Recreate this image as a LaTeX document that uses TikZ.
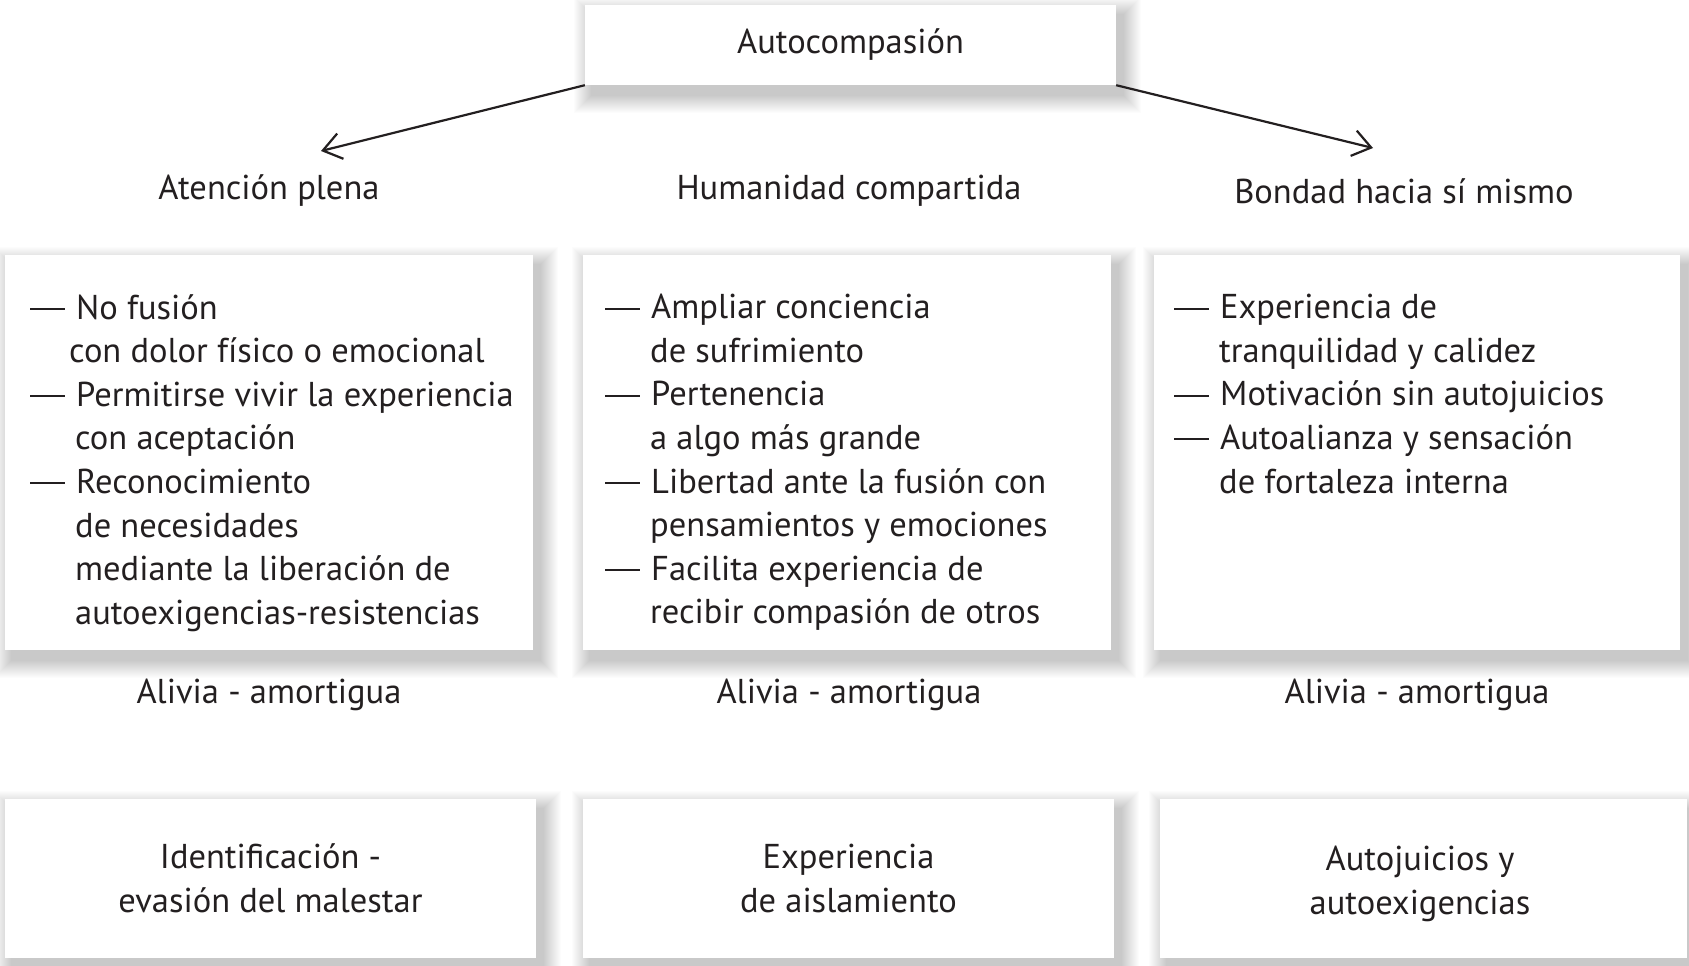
\documentclass[tikz,border=0pt]{standalone}
\usepackage{fontspec}
\setmainfont{PT Sans}
\usetikzlibrary{arrows.meta,calc}
\definecolor{ink}{HTML}{231F20}
\newcommand{\dsh}{\makebox[46pt][l]{\rule[9pt]{35pt}{2pt}}}
\newcommand{\ind}[1][45pt]{\hspace*{#1}}
\pgfdeclarelayer{back}
\pgfdeclarelayer{shadowlayer}
\pgfsetlayers{back,shadowlayer,main}
\newcommand{\softshadow}[1]{%
  \foreach \r in {1,...,18}{%
    \fill[black,opacity=0.013] ($(#1.south west)+(7-\r,10+\r)$) rectangle ($(#1.north east)+(7+\r,10-\r)$);}}
\tikzset{
  every node/.style={font=\fontsize{34.5}{43.6}\selectfont, text=ink},
  box/.style={fill=white, inner sep=0pt},
  body/.style={align=left, anchor=north west, inner sep=0pt},
  arr/.style={draw=ink, line width=2.2pt, -{Straight Barb[length=18pt,width=26pt,line width=2.2pt]}},
}
\begin{document}
\begin{tikzpicture}[x=1pt,y=-1pt]
\begin{pgfonlayer}{back}
\fill[white] (0,0) rectangle (1689,966);
\end{pgfonlayer}
\useasboundingbox (0,0) rectangle (1689,966);

% top
\node[box, minimum width=531pt, minimum height=80pt] (top) at (850.5,45) {Autocompasión};

% labels
\node (lA) at (269,191) {Atención plena};
\node (lH) at (849,191) {Humanidad compartida};
\node (lB) at (1404,191) {Bondad hacia sí mismo};
\coordinate (tipL) at (321,151);
\coordinate (tipR) at (1373,148);
\draw[arr] (top.south west) -- (tipL);
\draw[arr] (top.south east) -- (tipR);

% middle boxes
\node[box, minimum width=528pt, minimum height=395pt] (mL) at (269,452.5) {};
\node[box, minimum width=528pt, minimum height=395pt] (mM) at (847,452.5) {};
\node[box, minimum width=526pt, minimum height=395pt] (mR) at (1417,452.5) {};

\node[body] (tL) at (30,294) {\dsh No fusión\\
\ind[39pt]con dolor físico o emocional\\
\dsh Permitirse vivir la experiencia\\
\ind con aceptación\\
\dsh Reconocimiento\\
\ind de necesidades\\
\ind mediante la liberación de\\
\ind autoexigencias-resistencias};

\node[body] (tM) at (605,294) {\dsh Ampliar conciencia\\
\ind de sufrimiento\\
\dsh Pertenencia\\
\ind a algo más grande\\
\dsh Libertad ante la fusión con\\
\ind pensamientos y emociones\\
\dsh Facilita experiencia de\\
\ind recibir compasión de otros};

\node[body] (tR) at (1174,294) {\dsh Experiencia de\\
\ind tranquilidad y calidez\\
\dsh Motivación sin autojuicios\\
\dsh Autoalianza y sensación\\
\ind de fortaleza interna};

% alivia
\node (aL) at (269,695) {Alivia - amortigua};
\node (aM) at (849,695) {Alivia - amortigua};
\node (aR) at (1417,695) {Alivia - amortigua};

% bottom boxes
\node[box, align=center, minimum width=531pt, minimum height=159pt] (bL) at (270.5,878.5) {Identificación -\\evasión del malestar};
\node[box, align=center, minimum width=531pt, minimum height=159pt] (bM) at (848.5,878.5) {Experiencia\\de aislamiento};
\node[box, minimum width=527pt, minimum height=159pt] (bR) at (1423.5,878.5) {};
\node[align=center] (bRt) at (1420,884) {Autojuicios y\\autoexigencias};

\begin{pgfonlayer}{shadowlayer}
\softshadow{top}
\softshadow{mL}\softshadow{mM}\softshadow{mR}
\softshadow{bL}\softshadow{bM}\softshadow{bR}
\end{pgfonlayer}
\end{tikzpicture}
\end{document}
